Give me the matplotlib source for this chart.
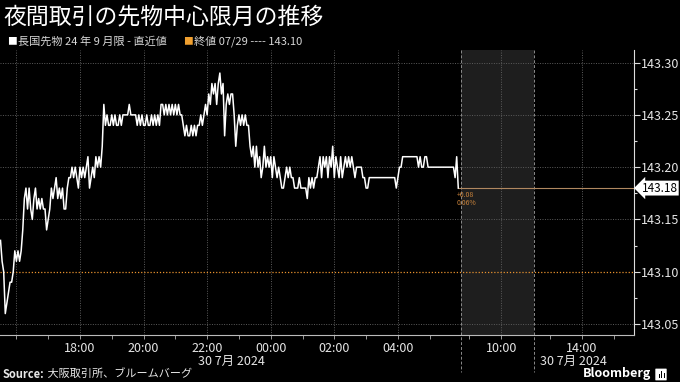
import numpy as np
import pandas as pd
import matplotlib
matplotlib.use("Agg")
import matplotlib.pyplot as plt
from matplotlib import transforms
from matplotlib.patches import FancyBboxPatch, Rectangle

plt.rcParams['font.family'] = ['Noto Sans CJK JP', 'DejaVu Sans']

title = "夜間取引の先物中心限月の推移"
series_label = "長国先物 24 年 9 月限 - 直近値"
close_label = "終値 07/29 ---- 143.10"
source_label = "大阪取引所、ブルームバーグ"
date_label = "30 7月 2024"

prev_close = 143.10
last_price = 143.18
change_txt = "+0.08\n0.06%"

# 3-minute prices from the start of the night session (15:30)
start = "2024-07-29 15:30"
prices = [
    143.13, 143.11, 143.10, 143.06, 143.07, 143.08, 143.09, 143.09, 143.10, 143.12, 143.11, 143.12,
    143.11, 143.12, 143.14, 143.17, 143.18, 143.16, 143.18, 143.16, 143.15, 143.17, 143.18, 143.16,
    143.17, 143.16, 143.17, 143.16, 143.16, 143.14, 143.15, 143.16, 143.18, 143.17, 143.18, 143.19,
    143.17, 143.18, 143.17, 143.18, 143.16, 143.16, 143.18, 143.19, 143.19, 143.20, 143.19, 143.20,
    143.19, 143.18, 143.20, 143.19, 143.20, 143.19, 143.20, 143.21, 143.18, 143.19, 143.20, 143.19,
    143.21, 143.20, 143.21, 143.20, 143.22, 143.26, 143.24, 143.25, 143.24, 143.24, 143.25, 143.24,
    143.25, 143.24, 143.24, 143.25, 143.24, 143.25, 143.25, 143.25, 143.25, 143.26, 143.25, 143.25,
    143.25, 143.25, 143.24, 143.25, 143.24, 143.25, 143.24, 143.24, 143.25, 143.24, 143.24, 143.25,
    143.24, 143.25, 143.24, 143.25, 143.24, 143.26, 143.26, 143.25, 143.26, 143.25, 143.26, 143.25,
    143.26, 143.25, 143.26, 143.25, 143.26, 143.25, 143.25, 143.24, 143.23, 143.24, 143.23, 143.23,
    143.24, 143.23, 143.24, 143.23, 143.24, 143.24, 143.25, 143.24, 143.25, 143.26, 143.25, 143.27,
    143.26, 143.28, 143.27, 143.28, 143.26, 143.28, 143.29, 143.27, 143.28, 143.23, 143.26, 143.27,
    143.26, 143.27, 143.27, 143.25, 143.22, 143.24, 143.25, 143.24, 143.25, 143.24, 143.25, 143.24,
    143.24, 143.22, 143.21, 143.22, 143.20, 143.22, 143.20, 143.21, 143.19, 143.20, 143.22, 143.20,
    143.21, 143.20, 143.21, 143.19, 143.21, 143.20, 143.19, 143.20, 143.19, 143.18, 143.18, 143.19,
    143.20, 143.19, 143.20, 143.19, 143.19, 143.18, 143.18, 143.18, 143.19, 143.18, 143.18, 143.18,
    143.18, 143.17, 143.19, 143.18, 143.19, 143.18, 143.19, 143.19, 143.20, 143.21, 143.19, 143.21,
    143.20, 143.21, 143.19, 143.21, 143.20, 143.22, 143.19, 143.21, 143.20, 143.19, 143.21, 143.19,
    143.20, 143.21, 143.20, 143.21, 143.20, 143.21, 143.20, 143.19, 143.20, 143.20, 143.20, 143.20,
    143.19, 143.19, 143.18, 143.18, 143.19, 143.19, 143.19, 143.19, 143.19, 143.19, 143.19, 143.19,
    143.19, 143.19, 143.19, 143.19, 143.19, 143.19, 143.19, 143.19, 143.19, 143.18, 143.19, 143.20,
    143.20, 143.21, 143.21, 143.21, 143.21, 143.21, 143.21, 143.21, 143.21, 143.21, 143.21, 143.20,
    143.21, 143.20, 143.20, 143.21, 143.21, 143.20, 143.20, 143.20, 143.20, 143.20, 143.20, 143.20,
    143.20, 143.20, 143.20, 143.20, 143.20, 143.20, 143.20, 143.20, 143.20, 143.20, 143.19, 143.21,
    143.18,
]

# trading sessions, squeezed together on the axis
sessions = [("2024-07-29 15:30", "2024-07-30 06:00"),
            ("2024-07-30 08:45", "2024-07-30 11:02"),
            ("2024-07-30 12:30", "2024-07-30 15:45")]

tick_times = ["2024-07-29 18:00", "2024-07-29 20:00", "2024-07-29 22:00", "2024-07-30 00:00",
              "2024-07-30 02:00", "2024-07-30 04:00", "2024-07-30 10:00", "2024-07-30 14:00"]
tick_labels = ["18:00", "20:00", "22:00", "00:00", "02:00", "04:00", "10:00", "14:00"]
grid_times = ["2024-07-29 16:00"] + tick_times
minor_times = ["2024-07-29 %02d:00" % h for h in range(16, 24)] + \
              ["2024-07-30 %02d:00" % h for h in range(0, 6)] + \
              ["2024-07-30 09:00", "2024-07-30 10:00", "2024-07-30 13:00",
               "2024-07-30 14:00", "2024-07-30 15:00"]
y_ticks = [143.05, 143.10, 143.15, 143.20, 143.25, 143.30]

sess = [(pd.Timestamp(a), pd.Timestamp(b)) for a, b in sessions]


def to_pos(t):
    t = pd.Timestamp(t)
    off = 0.0
    for a, b in sess:
        if t <= b:
            return off + max((t - a).total_seconds(), 0) / 3600
        off += (b - a).total_seconds() / 3600
    return off


times = pd.date_range(start, periods=len(prices), freq="3min")
xs = np.array([to_pos(t) for t in times])
brk1 = to_pos(sessions[0][1])
brk2 = brk1 + to_pos(sessions[1][1]) - to_pos(sessions[1][0])

fig = plt.figure(figsize=(6.8, 3.82), dpi=100, facecolor="black")
ax = fig.add_axes([0.0, 0.123, 0.932, 0.746])
ax.set_facecolor("black")
ax.set_xlim(-0.016, 19.92)
ax.set_ylim(143.0395, 143.312)

ax.axvspan(brk1, brk2, color="#1e1e1e", zorder=0, lw=0)

for y in y_ticks:
    if y != prev_close:
        ax.axhline(y, color="#5c5c5c", ls=(0, (1, 1.5)), lw=0.7, zorder=1)
for t in grid_times:
    ax.axvline(to_pos(t), color="#5c5c5c", ls=(0, (1, 1.5)), lw=0.7, zorder=1)

blend = transforms.blended_transform_factory(ax.transData, ax.transAxes)
for b in [brk1, brk2]:
    ax.plot([b, b], [1, -0.13], transform=blend, clip_on=False,
            color="#8a8a8a", lw=0.7, ls=(0, (3, 2)), zorder=2)

ax.axhline(prev_close, color="#e8922e", ls=(0, (1, 1.5)), lw=0.9, zorder=2)
ax.plot([xs[-1], 19.92], [last_price, last_price], color="#b08860", lw=0.8, zorder=2)

ax.plot(xs, prices, color="white", lw=1.1, zorder=3)

ax.annotate(change_txt, xy=(xs[-1], last_price), xytext=(-1, -2),
            textcoords="offset points", fontsize=5, color="#c8823a",
            ha="left", va="top", linespacing=1.0)

ax.text(1.0 + 8 / 634, last_price, "%.2f" % last_price, color="black", fontsize=8.5,
        transform=transforms.blended_transform_factory(ax.transAxes, ax.transData),
        ha="left", va="center", clip_on=False,
        bbox=dict(boxstyle="larrow,pad=0.08", fc="white", ec="none"))

# axes styling
for s in ["left", "top"]:
    ax.spines[s].set_visible(False)
ax.spines["right"].set_color("#dddddd")
ax.spines["right"].set_linewidth(0.8)
ax.spines["bottom"].set_color("#bbbbbb")
ax.spines["bottom"].set_linewidth(0.8)

ax.yaxis.tick_right()
ax.set_yticks(y_ticks, ["%.2f" % v for v in y_ticks])
ax.set_yticks([v + 0.025 for v in y_ticks[:-1]], minor=True)
ax.tick_params(axis="y", which="major", colors="#dddddd", length=4, width=0.8,
               labelsize=9, pad=1, labelcolor="#e6e6e6")
ax.tick_params(axis="y", which="minor", colors="#dddddd", length=2.5, width=0.8)

ax.set_xticks([to_pos(t) for t in tick_times], tick_labels)
ax.set_xticks([to_pos(t) for t in minor_times], minor=True)
ax.tick_params(axis="x", which="both", colors="#999999", length=3, width=0.7,
               labelsize=9, pad=2, labelcolor="#e6e6e6")

ax.text(brk1 / 2, -0.092, date_label, transform=blend, ha="center", va="center",
        fontsize=9, color="#e6e6e6")
ax.text(brk2 + 0.18, -0.092, date_label, transform=blend, ha="left", va="center",
        fontsize=9, color="#e6e6e6")

# header
fig.text(3 / 680, 1 - 17 / 382, title, fontsize=16.5, color="white", ha="left", va="center")
fig.text(12 / 680, 1 - 41 / 382, "■", fontsize=7, color="white", ha="center", va="center")
fig.text(18 / 680, 1 - 41 / 382, series_label, fontsize=8, color="#d8d8d8", ha="left", va="center")
fig.text(188 / 680, 1 - 41 / 382, "■", fontsize=7, color="#f0a030", ha="center", va="center")
fig.text(194 / 680, 1 - 41 / 382, close_label, fontsize=8, color="#d8d8d8", ha="left", va="center")

# footer
t1 = fig.text(3 / 680, 1 - 374 / 382, "Source:", fontsize=8, color="#e6e6e6",
              fontweight="bold", ha="left", va="center")
ax.annotate(" " + source_label, xy=(1, 0.5), xycoords=t1, fontsize=8, color="#e6e6e6",
            ha="left", va="center", annotation_clip=False)
fig.text(651 / 680, 1 - 374 / 382, "Bloomberg", fontsize=9, color="white",
         fontweight="bold", ha="right", va="center")
fig.add_artist(FancyBboxPatch((656 / 680, 1 - 380 / 382), 10 / 680, 11 / 382,
                              boxstyle="round,pad=0.001", transform=fig.transFigure,
                              fc="white", ec="none"))
for bx, bh in [(658.5, 4), (661, 7), (663.5, 5)]:
    fig.add_artist(Rectangle((bx / 680, 1 - 378 / 382), 1.2 / 680, bh / 382,
                             transform=fig.transFigure, fc="black", ec="none"))

fig.savefig("out.png", dpi=100, facecolor="black")
